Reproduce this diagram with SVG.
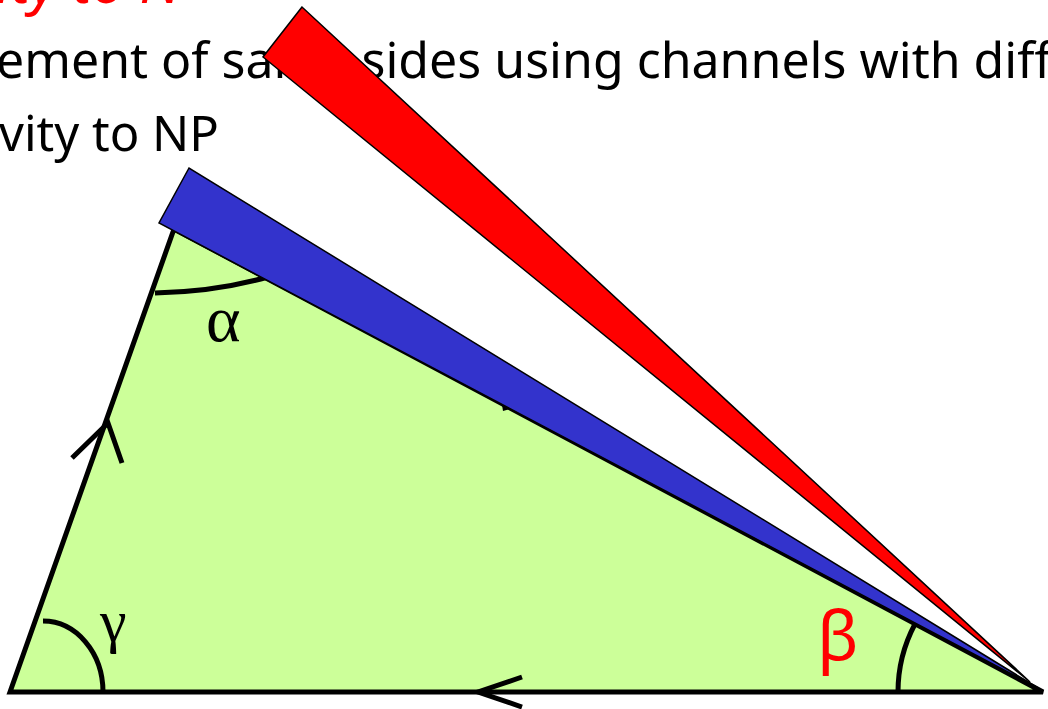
<svg xmlns="http://www.w3.org/2000/svg" width="1048" height="709" viewBox="0 0 1048 709">
<style>
.txt{font-family:"Noto Sans","DejaVu Sans",sans-serif;fill:#000}
.ttl{font-family:"Noto Sans","DejaVu Sans",sans-serif;fill:#FF0000;font-style:italic}
.greek{font-family:"Liberation Serif","DejaVu Serif",serif;fill:#000}
.arc{fill:none;stroke:#000;stroke-width:5}
.chev{fill:none;stroke:#000;stroke-width:5;stroke-linecap:butt}
.bar{stroke:#000;stroke-width:1.5;stroke-linejoin:miter}
</style>
<rect width="1048" height="709" fill="#fff"/>
<g id="title">
<text class="ttl" x="-4" y="3" font-size="58">ity to N</text>
</g>
<g id="text">
<text class="txt" x="-4" y="78" font-size="50">ement of same sides using channels with different</text>
<text class="txt" x="-1" y="151" font-size="49">vity to NP</text>
</g>
<g id="triangle">
<polygon points="10,692 174,229 1043,692" fill="#CCFF99" stroke="#000" stroke-width="5" stroke-linejoin="miter"/>
</g>
<g id="angles">
<path class="arc" d="M155,293 Q215,292 268,277"/>
<path class="arc" d="M43,621 A60,71 0 0 1 103,692"/>
<path class="arc" d="M898,692 A145,145 0 0 1 915,624"/>
</g>
<g id="connectors">
<polyline class="chev" points="72,458 108,423 122,463"/>
<polyline class="chev" points="522,677 478,692 522,707"/>
<polygon points="502,405 513,408 503,411" fill="#000"/>
</g>
<g id="blue-bar">
<polygon class="bar" points="189,168 159,223 1038,688" fill="#3333CC"/>
</g>
<g id="red-bar">
<polygon class="bar" points="302,7 263,57 1030,682" fill="#FF0000"/>
</g>
<g id="labels">
<text class="greek" x="206" y="341" font-size="66">α</text>
<text class="greek" x="100" y="641" font-size="60">γ</text>
<text x="817" y="660" font-size="68" fill="#FF0000" font-family="Noto Sans,DejaVu Sans,sans-serif">β</text>
</g>
</svg>
